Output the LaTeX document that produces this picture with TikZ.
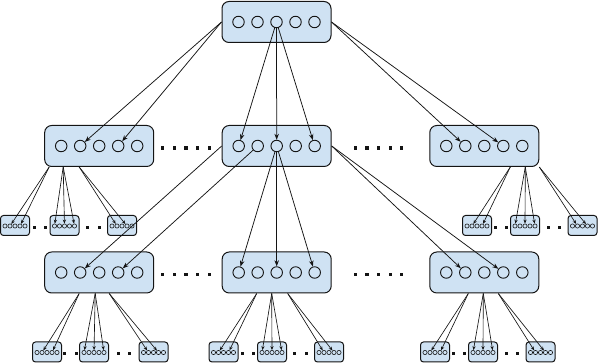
\documentclass[tikz,border=0pt]{standalone}
\usetikzlibrary{arrows.meta,positioning,calc}
\definecolor{boxblue}{RGB}{207,226,243}
\definecolor{boxborder}{RGB}{20,20,20}

\begin{document}
\begin{tikzpicture}[x=1pt,y=-1pt,
  bigbox/.style={rectangle,rounded corners=7pt,draw=boxborder,fill=boxblue,
                 minimum width=109pt,minimum height=41pt,line width=1pt},
  smallbox/.style={rectangle,rounded corners=3pt,draw=boxborder,fill=boxblue,
                   minimum width=29pt,minimum height=20pt,line width=1pt},
  unit/.style={circle,draw=boxborder,minimum size=11.5pt,inner sep=0pt,line width=0.9pt},
  tinyunit/.style={circle,draw=boxborder,minimum size=4.2pt,inner sep=0pt,line width=0.6pt},
  arr/.style={-{Stealth[length=6pt,width=4.5pt]},line width=0.75pt,color=boxborder},
  tinyarr/.style={-{Stealth[length=4pt,width=3.2pt]},line width=0.65pt,color=boxborder}
]
\useasboundingbox (0,0) rectangle (598,363);

\node[bigbox] (top) at (276.5,22) {};
\node[bigbox, below=82pt of top, xshift=0.2pt] (mc) {};
\node[bigbox, left=67.5pt of mc] (ml) {};
\node[bigbox, right=97.6pt of mc] (mr) {};
\node[bigbox, below=84.5pt of mc] (bc) {};
\node[bigbox, left=67.5pt of bc] (bl) {};
\node[bigbox, right=97.6pt of bc] (br) {};

% five units in every big box
\foreach \bx in {top,ml,mc,mr,bl,bc,br}
  \foreach \i in {1,...,5}
    \node[unit] (\bx-\i) at ($(\bx.center)+({(\i-3)*19},0)$) {};

% small boxes hanging under the lower boxes
\foreach \bx/\oa/\ob/\oc in {ml/-84.2/-34.7/22.8, mr/-7.3/40.7/98.2,
                             bl/-52.2/-5.2/54.3, bc/-53.2/-4.7/52.3, br/-49.3/-1.3/56.2} {
  \node[smallbox, below=48pt of \bx, xshift=\oa] (\bx-a) {};
  \node[smallbox, below=48pt of \bx, xshift=\ob] (\bx-b) {};
  \node[smallbox, below=48pt of \bx, xshift=\oc] (\bx-c) {};
  \foreach \sx in {a,b,c}
    \foreach \k in {1,...,5}
      \node[tinyunit] (\bx-\sx-\k) at ($(\bx-\sx.center)+({(\k-3)*5},0.5)$) {};
}

% top box to the middle row
\draw[arr] (top.west) -- (ml-2);
\draw[arr] (top.west) -- (ml-4);
\draw[arr] (top.east) -- (mr-2);
\draw[arr] (top.east) -- (mr-4);
\foreach \i in {1,3,5}
  \draw[arr] (top-3) -- (mc-\i);

% middle box to the bottom row
\draw[arr] (mc.west) -- (bl-2);
\draw[arr] (mc-2) -- (bl-4);
\draw[arr] (mc.east) -- (br-2);
\draw[arr] (mc.east) -- (br-4);
\foreach \i in {1,3,5}
  \draw[arr] (mc-3) -- (bc-\i);

% lower boxes to their small boxes, from three points on the bottom edge
\foreach \bx/\pa/\pb/\pc in {ml/-50/-36/-20, mr/26/41/55,
                             bl/-20/-4/10, bc/-20/-5/11, br/-16/-1/14} {
  \coordinate (\bx-ta) at ($(\bx.south)+(\pa,0)$);
  \coordinate (\bx-tb) at ($(\bx.south)+(\pb,0)$);
  \coordinate (\bx-tc) at ($(\bx.south)+(\pc,0)$);
  \draw[tinyarr] (\bx-ta) -- (\bx-a-2);
  \draw[tinyarr] (\bx-ta) -- (\bx-a-4);
  \foreach \k in {1,3,5}
    \draw[tinyarr] (\bx-tb) -- (\bx-b-\k);
  \draw[tinyarr] (\bx-tc) -- (\bx-c-2);
  \draw[tinyarr] (\bx-tc) -- (\bx-c-4);
}

% dotted gaps
\foreach \u/\v in {ml/mc,mc/mr,bl/bc,bc/br}
  \foreach \k in {-2,...,2}
    \fill[boxborder] ($(\u.east)!0.5!(\v.west)+(\k*11.6-3.5,0.5)$) rectangle ++(3.2,3.2);
\foreach \bx in {ml,mr,bl,bc,br}
  \foreach \u/\v in {a/b,b/c}
    \foreach \k in {-1,1}
      \fill[boxborder] ($(\bx-\u.east)!0.5!(\bx-\v.west)+(\k*5.75-1.5,0.1)$) rectangle ++(3,3);

\end{tikzpicture}
\end{document}
